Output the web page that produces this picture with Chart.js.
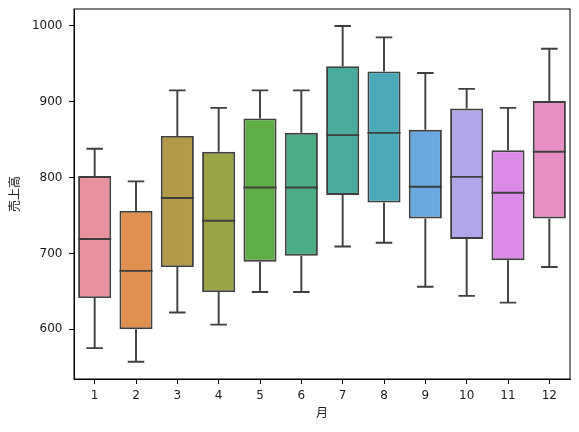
<!DOCTYPE html>
<html><head><meta charset="utf-8">
<script src="https://cdn.jsdelivr.net/npm/chart.js@4/dist/chart.umd.min.js"></script>
<style>html,body{margin:0;padding:0;background:#fff}#wrap{width:579px;height:432px}</style>
</head><body><div id="wrap"><canvas id="c" width="579" height="432"></canvas></div>
<script>
const months = ['1','2','3','4','5','6','7','8','9','10','11','12'];
const whiskerLow  = [575, 557, 622, 606, 649, 649, 709, 714, 656, 644, 635, 682];
const q1          = [641, 600, 682, 649, 689, 697, 777, 767, 746, 719, 691, 746];
const median      = [719, 677, 773, 743, 787, 787, 856, 859, 788, 801, 780, 834];
const q3          = [802, 756, 855, 834, 878, 859, 947, 940, 863, 891, 836, 901];
const whiskerHigh = [838, 795, 915, 892, 915, 915, 1000, 985, 938, 917, 892, 970];
const yTicks = [600, 700, 800, 900, 1000];
const boxColors = ['#e8919f','#e09150','#b49a48','#9aa444','#5fae45','#4aad86',
                   '#4aab9c','#4ba9b8','#6aa9e0','#b2a6e8','#dc8ae8','#e88ec4'];
const lineColor = '#3f3f3f';
const FONT = '"DejaVu Sans", "Noto Sans CJK JP", sans-serif';

const boxPlugin = {
  id: 'boxParts',
  afterDatasetsDraw(chart) {
    const ctx = chart.ctx, xs = chart.scales.x, ys = chart.scales.y;
    const meta = chart.getDatasetMeta(0);
    ctx.save();
    ctx.strokeStyle = lineColor;
    ctx.lineWidth = 1.9;
    ctx.lineCap = 'butt';
    meta.data.forEach((bar, i) => {
      const cx = xs.getPixelForValue(i);
      const half = bar.width / 2;
      const capHalf = half / 2;
      const yq1 = ys.getPixelForValue(q1[i]), yq3 = ys.getPixelForValue(q3[i]);
      const ylo = ys.getPixelForValue(whiskerLow[i]), yhi = ys.getPixelForValue(whiskerHigh[i]);
      const ym = ys.getPixelForValue(median[i]);
      ctx.beginPath();
      ctx.moveTo(cx, yq1); ctx.lineTo(cx, ylo);
      ctx.moveTo(cx, yq3); ctx.lineTo(cx, yhi);
      ctx.moveTo(cx - capHalf, ylo); ctx.lineTo(cx + capHalf, ylo);
      ctx.moveTo(cx - capHalf, yhi); ctx.lineTo(cx + capHalf, yhi);
      ctx.moveTo(cx - half, ym); ctx.lineTo(cx + half, ym);
      ctx.stroke();
    });
    const a = chart.chartArea;
    ctx.strokeStyle = '#000';
    ctx.lineWidth = 1;
    ctx.strokeRect(a.left, a.top, a.right - a.left, a.bottom - a.top);
    ctx.restore();
  }
};

new Chart(document.getElementById('c'), {
  type: 'bar',
  data: {
    labels: months,
    datasets: [{
      data: months.map((m, i) => [q1[i], q3[i]]),
      backgroundColor: boxColors,
      borderColor: lineColor,
      borderWidth: 1.9,
      borderSkipped: false,
      barPercentage: 0.8,
      categoryPercentage: 1.0
    }]
  },
  options: {
    responsive: false,
    animation: false,
    devicePixelRatio: 1,
    layout: { padding: { top: 9, right: 9, left: 0, bottom: 0 } },
    plugins: { legend: { display: false }, tooltip: { enabled: false } },
    scales: {
      x: {
        offset: true,
        grid: { display: true, drawOnChartArea: false, tickLength: 5, tickColor: '#000', offset: false },
        border: { display: true, color: '#000', width: 1 },
        ticks: { color: '#1a1a1a', font: { family: FONT, size: 12 }, padding: 5, maxRotation: 0 },
        title: { display: true, text: '月', color: '#1a1a1a', font: { family: FONT, size: 12 }, padding: { top: 10.5, bottom: 10.5 } },
        afterFit(s) { s.height = 53; s.paddingLeft = 0; s.paddingRight = 0; }
      },
      y: {
        min: 534.3, max: 1022.4,
        grid: { display: true, drawOnChartArea: false, tickLength: 5, tickColor: '#000' },
        border: { display: true, color: '#000', width: 1 },
        ticks: { color: '#1a1a1a', font: { family: FONT, size: 12 }, padding: 6.5,
                 callback: v => String(v) },
        afterBuildTicks(s) { s.ticks = yTicks.map(v => ({ value: v })); },
        title: { display: true, text: '売上高', color: '#1a1a1a', font: { family: FONT, size: 12 }, padding: { top: 9, bottom: 9 } },
        afterFit(s) { s.width = 74; s.paddingTop = 0; s.paddingBottom = 0; }
      }
    }
  },
  plugins: [boxPlugin]
});
</script></body></html>
